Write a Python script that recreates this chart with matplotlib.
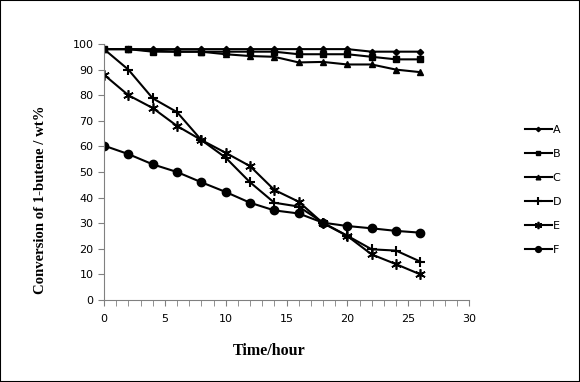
import matplotlib.pyplot as plt
from matplotlib.patches import Rectangle

time_h = [0, 2, 4, 6, 8, 10, 12, 14, 16, 18, 20, 22, 24, 26]
conv_a = [98, 98, 98, 98, 98, 98, 98, 98, 98, 98, 98, 97, 97, 97]
conv_b = [98, 98, 97, 97, 97, 97, 97, 97, 96, 96, 96, 95, 94, 94]
conv_c = [98, 98, 97.4, 97, 97, 96, 95.3, 95, 92.8, 93, 92, 92, 90, 89]
conv_d = [98, 90, 78.8, 73.4, 62.5, 55.6, 46, 38, 36.5, 30.2, 25.1, 19.8, 19.3, 15]
conv_e = [88, 80, 75, 68, 62.5, 57.5, 52.3, 43, 38.4, 30, 25, 17.8, 14, 10]
conv_f = [60.3, 57, 53, 50, 46, 42.2, 38, 35, 33.8, 30.2, 28.9, 28, 27, 26.3]

series = [
    ("A", conv_a, dict(marker="D", ms=3.2)),
    ("B", conv_b, dict(marker="s", ms=4.8)),
    ("C", conv_c, dict(marker="^", ms=4.8)),
    ("D", conv_d, dict(marker="+", ms=7.5, mew=1.5)),
    ("E", conv_e, dict(marker=(6, 2, 0), ms=7.5, mew=1.2)),
    ("F", conv_f, dict(marker="o", ms=6)),
]

fig = plt.figure(figsize=(5.8, 3.82), dpi=100)
ax = fig.add_axes([104 / 580, 1 - 300 / 382, 365 / 580, 256 / 382])

handles = []
for name, vals, style in series:
    h, = ax.plot(time_h, vals, color="black", lw=1.5, label=name, **style)
    handles.append(h)

ax.set_xlim(0, 30)
ax.set_ylim(0, 100)
ax.set_xticks(range(0, 31, 5))
ax.set_xticks(range(0, 31), minor=True)
ax.set_yticks(range(0, 101, 10))
for s in ["top", "right"]:
    ax.spines[s].set_visible(False)
for s in ["left", "bottom"]:
    ax.spines[s].set_color("#808080")
ax.tick_params(axis="both", which="both", direction="out", length=4,
               color="#808080", labelsize=8)
ax.tick_params(axis="x", pad=6)

ax.set_xlabel("Time/hour", family="Liberation Serif", fontweight="bold",
              fontsize=11.5, va="top")
ax.xaxis.set_label_coords((269 - 104) / 365, (300 - 343) / 256)
ax.set_ylabel("Conversion of 1-butene / wt%", family="Liberation Serif",
              fontweight="bold", fontsize=10.6)
ax.yaxis.set_label_coords((47 - 104) / 365, (300 - 200) / 256)

fig.legend(handles=handles, loc="center left", bbox_to_anchor=(515 / 580, 1 - 190 / 382),
           frameon=False, fontsize=8, handlelength=2.4, labelspacing=1.27,
           handletextpad=0.1, markerscale=0.7)

fig.patches.append(Rectangle((0, 0), 1, 1, transform=fig.transFigure,
                             fill=False, edgecolor="black", lw=1.5))

fig.savefig("out.png", dpi=100)
